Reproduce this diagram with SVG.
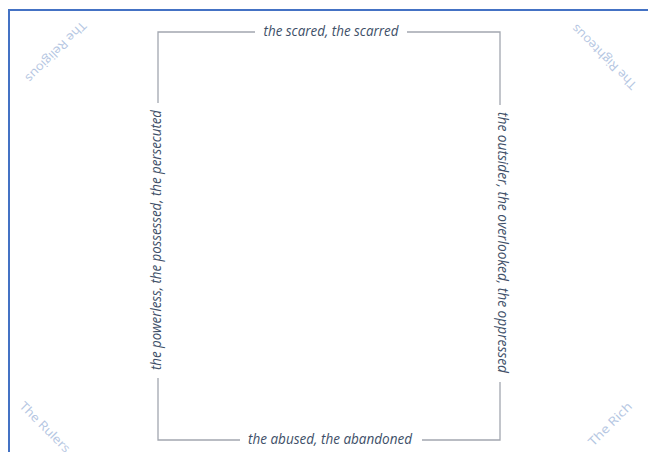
<svg xmlns="http://www.w3.org/2000/svg" width="648" height="452" viewBox="0 0 648 452">
<style>
.lbl{font-family:"Open Sans","Liberation Sans",sans-serif;font-style:italic;font-size:14px;fill:#3e4f68;text-anchor:middle}
.crn{font-family:"Open Sans","Liberation Sans",sans-serif;font-size:12px;fill:#b4c6e2;text-anchor:middle}
.ln{stroke:#a2a7b0;stroke-width:1.3;fill:none}
</style>
<rect width="648" height="452" fill="#ffffff"/>
<rect x="9" y="10" width="660" height="460" fill="#ffffff" stroke="#4472c4" stroke-width="2"/>
<g id="connectors">
<path class="ln" d="M255,32 H158 V103"/>
<path class="ln" d="M407,32 H500 V105"/>
<path class="ln" d="M158,378 V440 H240"/>
<path class="ln" d="M500,382 V440 H422"/>
</g>
<g id="top"><text class="lbl" x="331" y="36" textLength="135" lengthAdjust="spacingAndGlyphs">the scared, the scarred</text></g>
<g id="bottom"><text class="lbl" x="330" y="444" textLength="164" lengthAdjust="spacingAndGlyphs">the abused, the abandoned</text></g>
<g id="left"><text class="lbl" transform="translate(161,240) rotate(-90)" x="0" y="0" textLength="260" lengthAdjust="spacingAndGlyphs">the powerless, the possessed, the persecuted</text></g>
<g id="right"><text class="lbl" transform="translate(498,242.5) rotate(90)" x="0" y="0" textLength="261" lengthAdjust="spacingAndGlyphs">the outsider, the overlooked, the oppressed</text></g>
<g id="religious"><text class="crn" transform="translate(53,49) rotate(135)" textLength="80" lengthAdjust="spacingAndGlyphs">The Religious</text></g>
<g id="righteous"><text class="crn" transform="translate(607,54) rotate(-135)" textLength="86" lengthAdjust="spacingAndGlyphs">The Righteous</text></g>
<g id="rulers"><text class="crn" transform="translate(42,430) rotate(45)" textLength="66" lengthAdjust="spacingAndGlyphs">The Rulers</text></g>
<g id="rich"><text class="crn" transform="translate(613,427) rotate(-45)" textLength="56" lengthAdjust="spacingAndGlyphs">The Rich</text></g>
</svg>
